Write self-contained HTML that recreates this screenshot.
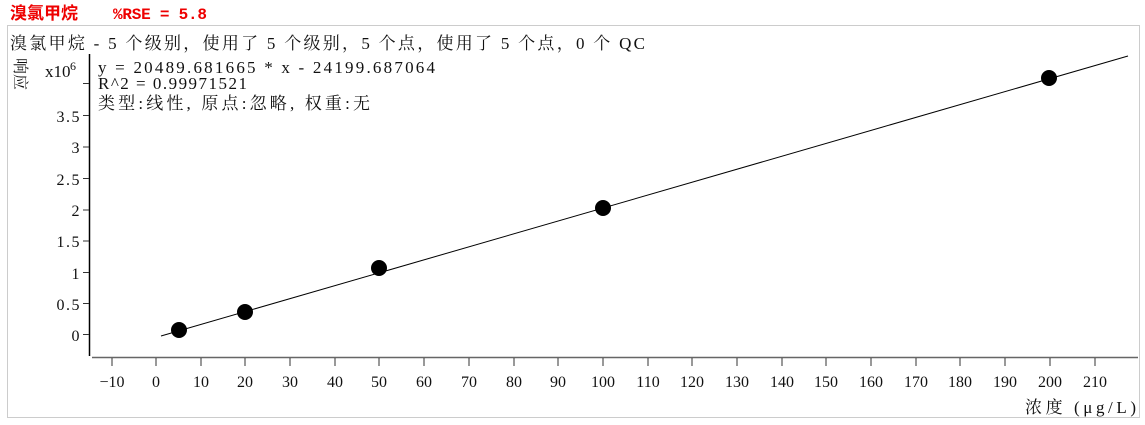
<!DOCTYPE html>
<html><head><meta charset="utf-8"><style>
body{margin:0;background:#fff;}
svg{display:block;}
text{font-family:"Liberation Serif","Noto Serif CJK SC",serif;font-size:16px;fill:#111;}
</style></head><body>
<svg width="1145" height="425" xmlns="http://www.w3.org/2000/svg">
<text x="10" y="19" style="font-family:'Liberation Sans','Noto Sans CJK SC',sans-serif;font-weight:bold;fill:#e00;font-size:17px">溴氯甲烷</text>
<text x="113" y="19" textLength="94" style="font-family:'Liberation Mono',monospace;font-weight:bold;fill:#e00;font-size:16px">%RSE = 5.8</text>
<rect x="7.5" y="25.5" width="1132" height="392" fill="none" stroke="#ccc"/>
<text x="10" y="49" textLength="635" style="font-family:'Liberation Serif','Noto Serif CJK SC',serif;font-size:17px">溴氯甲烷 - 5 个级别，使用了 5 个级别，5 个点，使用了 5 个点，0 个 QC</text>
<text transform="translate(15,58) rotate(90)" x="0" y="0" style="font-size:16px">响应</text>
<text x="45" y="77" style="font-size:17px">x10</text><text x="70" y="70" style="font-size:12px">6</text>
<line x1="89.5" y1="54" x2="89.5" y2="356" stroke="#000" stroke-width="1.5"/>
<line x1="92" y1="357.5" x2="1138" y2="357.5" stroke="#666" stroke-width="1.5"/>
<g stroke="#333" stroke-width="1">
<line x1="83" y1="83.5" x2="89" y2="83.5"/>
<line x1="83" y1="115.5" x2="89" y2="115.5"/>
<line x1="83" y1="147" x2="89" y2="147"/>
<line x1="83" y1="178.5" x2="89" y2="178.5"/>
<line x1="83" y1="210" x2="89" y2="210"/>
<line x1="83" y1="241" x2="89" y2="241"/>
<line x1="83" y1="272.5" x2="89" y2="272.5"/>
<line x1="83" y1="303.5" x2="89" y2="303.5"/>
<line x1="83" y1="334.5" x2="89" y2="334.5"/>
</g>
<g text-anchor="end" style="font-size:17px;letter-spacing:1.5px">
<text x="81" y="122">3.5</text><text x="81" y="153">3</text><text x="81" y="185">2.5</text>
<text x="81" y="216">2</text><text x="81" y="247">1.5</text><text x="81" y="279">1</text>
<text x="81" y="310">0.5</text><text x="81" y="341">0</text>
</g>
<g text-anchor="middle" style="font-size:17px">
<line x1="112" y1="358" x2="112" y2="366" stroke="#333"/><text x="112" y="387">−10</text>
<line x1="156" y1="358" x2="156" y2="366" stroke="#333"/><text x="156" y="387">0</text>
<line x1="201" y1="358" x2="201" y2="366" stroke="#333"/><text x="201" y="387">10</text>
<line x1="245" y1="358" x2="245" y2="366" stroke="#333"/><text x="245" y="387">20</text>
<line x1="290" y1="358" x2="290" y2="366" stroke="#333"/><text x="290" y="387">30</text>
<line x1="335" y1="358" x2="335" y2="366" stroke="#333"/><text x="335" y="387">40</text>
<line x1="379" y1="358" x2="379" y2="366" stroke="#333"/><text x="379" y="387">50</text>
<line x1="424" y1="358" x2="424" y2="366" stroke="#333"/><text x="424" y="387">60</text>
<line x1="469" y1="358" x2="469" y2="366" stroke="#333"/><text x="469" y="387">70</text>
<line x1="514" y1="358" x2="514" y2="366" stroke="#333"/><text x="514" y="387">80</text>
<line x1="558" y1="358" x2="558" y2="366" stroke="#333"/><text x="558" y="387">90</text>
<line x1="603" y1="358" x2="603" y2="366" stroke="#333"/><text x="603" y="387">100</text>
<line x1="648" y1="358" x2="648" y2="366" stroke="#333"/><text x="648" y="387">110</text>
<line x1="692" y1="358" x2="692" y2="366" stroke="#333"/><text x="692" y="387">120</text>
<line x1="737" y1="358" x2="737" y2="366" stroke="#333"/><text x="737" y="387">130</text>
<line x1="782" y1="358" x2="782" y2="366" stroke="#333"/><text x="782" y="387">140</text>
<line x1="826" y1="358" x2="826" y2="366" stroke="#333"/><text x="826" y="387">150</text>
<line x1="871" y1="358" x2="871" y2="366" stroke="#333"/><text x="871" y="387">160</text>
<line x1="916" y1="358" x2="916" y2="366" stroke="#333"/><text x="916" y="387">170</text>
<line x1="960" y1="358" x2="960" y2="366" stroke="#333"/><text x="960" y="387">180</text>
<line x1="1005" y1="358" x2="1005" y2="366" stroke="#333"/><text x="1005" y="387">190</text>
<line x1="1050" y1="358" x2="1050" y2="366" stroke="#333"/><text x="1050" y="387">200</text>
<line x1="1095" y1="358" x2="1095" y2="366" stroke="#333"/><text x="1095" y="387">210</text>
</g>
<text x="1025" y="413" textLength="111" style="font-size:17px">浓度 (μg/L)</text>
<text x="98" y="73" textLength="337" style="font-size:17px">y = 20489.681665 * x  - 24199.687064</text>
<text x="98" y="89" textLength="149" style="font-size:17px">R^2 = 0.99971521</text>
<text x="98" y="109" textLength="272" style="font-family:'Liberation Serif','Noto Serif CJK SC',serif;font-size:17px">类型:线性, 原点:忽略, 权重:无</text>
<line x1="161" y1="336" x2="1128" y2="56" stroke="#000" stroke-width="1"/>
<g fill="#000">
<circle cx="179" cy="330" r="8"/>
<circle cx="245" cy="312" r="8"/>
<circle cx="379" cy="268" r="8"/>
<circle cx="603" cy="208" r="8"/>
<circle cx="1049" cy="78" r="8"/>
</g>
</svg>
</body></html>
